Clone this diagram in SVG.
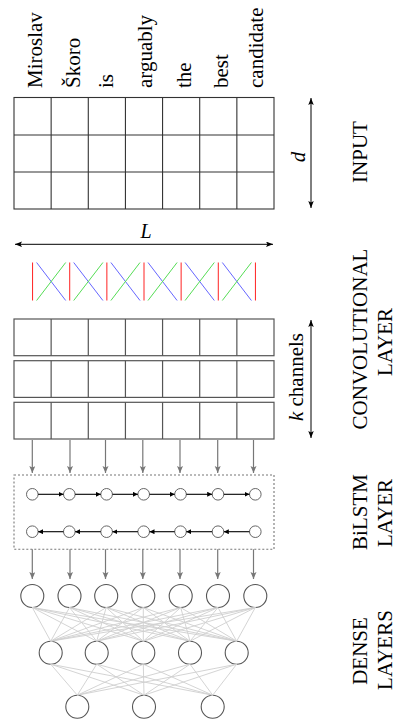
<svg xmlns="http://www.w3.org/2000/svg" width="396" height="722" viewBox="0 0 396 722">
<defs>
<style>
.t{font-family:"Liberation Serif","Times New Roman",serif;font-size:21px;fill:#000}
.it{font-style:italic}
.grid{fill:none;stroke:#333;stroke-width:1.1}
.cgrid{fill:none;stroke:#555;stroke-width:1.2}
.dim{stroke:#000;stroke-width:1;fill:none;marker-start:url(#ah);marker-end:url(#ah)}
.ga{stroke:#777;stroke-width:1.2;fill:none;marker-end:url(#agh)}
.ba{stroke:#000;stroke-width:1.1;fill:none;marker-end:url(#sh)}
.lc{fill:#fff;stroke:#666;stroke-width:1}
.dc{fill:#fff;stroke:#555;stroke-width:1.1}
.ln{stroke:#cfcfcf;stroke-width:0.9;fill:none}
.r{stroke:#f22;stroke-width:1}
.b{stroke:#66f;stroke-width:1}
.g{stroke:#5d5;stroke-width:1}
</style>
<marker id="ah" markerUnits="userSpaceOnUse" markerWidth="8" markerHeight="6" refX="7" refY="2.75" orient="auto-start-reverse"><path d="M0,0 L7,2.75 L0,5.5 L1.5,2.75 z" fill="#000"/></marker>
<marker id="agh" markerUnits="userSpaceOnUse" markerWidth="8" markerHeight="7" refX="7" refY="3" orient="auto"><path d="M0,0 L7,3 L0,6 L1.5,3 z" fill="#777"/></marker>
<marker id="sh" markerUnits="userSpaceOnUse" markerWidth="6" markerHeight="6" refX="5" refY="2.5" orient="auto"><path d="M0,0 L5,2.5 L0,5 z" fill="#000"/></marker>
</defs>

<g id="words">
<text class="t" transform="translate(41.5,88) rotate(-90)">Miroslav</text>
<text class="t" transform="translate(79.5,88) rotate(-90)">Škoro</text>
<text class="t" transform="translate(113,88) rotate(-90)">is</text>
<text class="t" transform="translate(152,88) rotate(-90)">arguably</text>
<text class="t" transform="translate(190.5,88) rotate(-90)">the</text>
<text class="t" transform="translate(227.5,88) rotate(-90)">best</text>
<text class="t" transform="translate(263,88) rotate(-90)">candidate</text>
</g>

<g id="input-grid">
<rect class="grid" x="14" y="97.5" width="260" height="111.5"/>
<path class="grid" d="M51.14,97.5V209M88.29,97.5V209M125.43,97.5V209M162.57,97.5V209M199.71,97.5V209M236.86,97.5V209M14,135H274M14,172H274"/>
</g>

<g id="input-label">
<text class="t" text-anchor="middle" transform="translate(366.5,152) rotate(-90)">INPUT</text>
<text class="t it" text-anchor="middle" transform="translate(305,157) rotate(-90)">d</text>
</g>

<g id="L-label">
<text class="t it" x="146" y="238" text-anchor="middle" style="font-size:20px">L</text>
</g>

<g id="filters">
<path class="r" d="M32.57,262.5V300.5M69.71,262.5V300.5M106.86,262.5V300.5M144,262.5V300.5M181.14,262.5V300.5M218.29,262.5V300.5M255.43,262.5V300.5"/>
<path class="b" d="M36.6,262.5L65.7,300.5M73.7,262.5L102.9,300.5M110.9,262.5L140,300.5M148,262.5L177.1,300.5M185.1,262.5L214.3,300.5M222.3,262.5L251.4,300.5"/>
<path class="g" d="M36.6,300.5L65.7,262.5M73.7,300.5L102.9,262.5M110.9,300.5L140,262.5M148,300.5L177.1,262.5M185.1,300.5L214.3,262.5M222.3,300.5L251.4,262.5"/>
</g>

<g id="conv-grid">
<rect class="cgrid" x="14" y="319" width="260" height="36.7"/>
<rect class="cgrid" x="14" y="360.7" width="260" height="36.7"/>
<rect class="cgrid" x="14" y="402.3" width="260" height="36.7"/>
<path class="cgrid" d="M51.14,319V355.7M88.29,319V355.7M125.43,319V355.7M162.57,319V355.7M199.71,319V355.7M236.86,319V355.7M51.14,360.7V397.4M88.29,360.7V397.4M125.43,360.7V397.4M162.57,360.7V397.4M199.71,360.7V397.4M236.86,360.7V397.4M51.14,402.3V439M88.29,402.3V439M125.43,402.3V439M162.57,402.3V439M199.71,402.3V439M236.86,402.3V439"/>
</g>

<g id="conv-label">
<text class="t it" text-anchor="middle" transform="translate(303,377) rotate(-90)">k<tspan style="font-style:normal"> channels</tspan></text>
<text class="t" text-anchor="middle" transform="translate(366.5,339) rotate(-90)">CONVOLUTIONAL</text>
<text class="t" text-anchor="middle" transform="translate(392,342) rotate(-90)">LAYER</text>
</g>

<g id="bilstm">
<rect x="14" y="475" width="260" height="74.3" fill="none" stroke="#777" stroke-width="1.1" stroke-dasharray="2,2"/>
<g id="fwd">
<circle class="lc" cx="32.3" cy="494.3" r="5.8"/><circle class="lc" cx="69.3" cy="494.3" r="5.8"/><circle class="lc" cx="106.6" cy="494.3" r="5.8"/><circle class="lc" cx="143.7" cy="494.3" r="5.8"/><circle class="lc" cx="180.5" cy="494.3" r="5.8"/><circle class="lc" cx="218" cy="494.3" r="5.8"/><circle class="lc" cx="255.3" cy="494.3" r="5.8"/>
</g>
<g id="bwd">
<circle class="lc" cx="32.3" cy="531.7" r="5.8"/><circle class="lc" cx="69.3" cy="531.7" r="5.8"/><circle class="lc" cx="106.6" cy="531.7" r="5.8"/><circle class="lc" cx="143.7" cy="531.7" r="5.8"/><circle class="lc" cx="180.5" cy="531.7" r="5.8"/><circle class="lc" cx="218" cy="531.7" r="5.8"/><circle class="lc" cx="255.3" cy="531.7" r="5.8"/>
</g>
</g>

<g id="bilstm-label">
<text class="t" text-anchor="middle" transform="translate(366.5,512) rotate(-90)">BiLSTM</text>
<text class="t" text-anchor="middle" transform="translate(392,513) rotate(-90)">LAYER</text>
</g>

<g id="dense">
<g id="d1">
<circle class="dc" cx="32.3" cy="596" r="11.5"/><circle class="dc" cx="69.5" cy="596" r="11.5"/><circle class="dc" cx="106.2" cy="596" r="11.5"/><circle class="dc" cx="143.3" cy="596" r="11.5"/><circle class="dc" cx="180.7" cy="596" r="11.5"/><circle class="dc" cx="218" cy="596" r="11.5"/><circle class="dc" cx="255.3" cy="596" r="11.5"/>
</g>
<g id="d2">
<circle class="dc" cx="50.7" cy="652.7" r="11.5"/><circle class="dc" cx="96.7" cy="652.7" r="11.5"/><circle class="dc" cx="143.3" cy="652.7" r="11.5"/><circle class="dc" cx="190" cy="652.7" r="11.5"/><circle class="dc" cx="236.7" cy="652.7" r="11.5"/>
</g>
<g id="d3">
<circle class="dc" cx="77.3" cy="706.7" r="11.5"/><circle class="dc" cx="144" cy="706.7" r="11.5"/><circle class="dc" cx="212.7" cy="706.7" r="11.5"/>
</g>
</g>

<g id="dense-label">
<text class="t" text-anchor="middle" transform="translate(366.5,651) rotate(-90)">DENSE</text>
<text class="t" text-anchor="middle" transform="translate(392,650) rotate(-90)">LAYERS</text>
</g>

<g id="connectors">
<line class="dim" x1="311" y1="98" x2="311" y2="208"/>
<line class="dim" x1="15" y1="244.3" x2="273" y2="244.3"/>
<line class="dim" x1="311" y1="320" x2="311" y2="438"/>

<path class="ga" d="M32.3,440V473"/><path class="ga" d="M70,440V473"/><path class="ga" d="M105.5,440V473"/><path class="ga" d="M142.8,440V473"/><path class="ga" d="M180,440V473"/><path class="ga" d="M217.7,440V473"/><path class="ga" d="M253.5,440V473"/>
<path class="ga" d="M32.3,549.3V579"/><path class="ga" d="M70,549.3V579"/><path class="ga" d="M105.5,549.3V579"/><path class="ga" d="M142.8,549.3V579"/><path class="ga" d="M180,549.3V579"/><path class="ga" d="M217.7,549.3V579"/><path class="ga" d="M253.5,549.3V579"/>

<path class="ba" d="M38.1,494.3H63.5"/><path class="ba" d="M75.1,494.3H100.8"/><path class="ba" d="M112.4,494.3H137.9"/><path class="ba" d="M149.5,494.3H174.7"/><path class="ba" d="M186.3,494.3H212.2"/><path class="ba" d="M223.8,494.3H249.5"/>
<path class="ba" d="M63.5,531.7H38.1"/><path class="ba" d="M100.8,531.7H75.1"/><path class="ba" d="M137.9,531.7H112.4"/><path class="ba" d="M174.7,531.7H149.5"/><path class="ba" d="M212.2,531.7H186.3"/><path class="ba" d="M249.5,531.7H223.8"/>

<path class="ln" d="M32.3,607.5L50.7,641.2M32.3,607.5L96.7,641.2M32.3,607.5L143.3,641.2M32.3,607.5L190,641.2M32.3,607.5L236.7,641.2M69.5,607.5L50.7,641.2M69.5,607.5L96.7,641.2M69.5,607.5L143.3,641.2M69.5,607.5L190,641.2M69.5,607.5L236.7,641.2M106.2,607.5L50.7,641.2M106.2,607.5L96.7,641.2M106.2,607.5L143.3,641.2M106.2,607.5L190,641.2M106.2,607.5L236.7,641.2M143.3,607.5L50.7,641.2M143.3,607.5L96.7,641.2M143.3,607.5L143.3,641.2M143.3,607.5L190,641.2M143.3,607.5L236.7,641.2M180.7,607.5L50.7,641.2M180.7,607.5L96.7,641.2M180.7,607.5L143.3,641.2M180.7,607.5L190,641.2M180.7,607.5L236.7,641.2M218,607.5L50.7,641.2M218,607.5L96.7,641.2M218,607.5L143.3,641.2M218,607.5L190,641.2M218,607.5L236.7,641.2M255.3,607.5L50.7,641.2M255.3,607.5L96.7,641.2M255.3,607.5L143.3,641.2M255.3,607.5L190,641.2M255.3,607.5L236.7,641.2"/>
<path class="ln" d="M50.7,664.2L77.3,695.2M50.7,664.2L144,695.2M50.7,664.2L212.7,695.2M96.7,664.2L77.3,695.2M96.7,664.2L144,695.2M96.7,664.2L212.7,695.2M143.3,664.2L77.3,695.2M143.3,664.2L144,695.2M143.3,664.2L212.7,695.2M190,664.2L77.3,695.2M190,664.2L144,695.2M190,664.2L212.7,695.2M236.7,664.2L77.3,695.2M236.7,664.2L144,695.2M236.7,664.2L212.7,695.2"/>
</g>
</svg>
